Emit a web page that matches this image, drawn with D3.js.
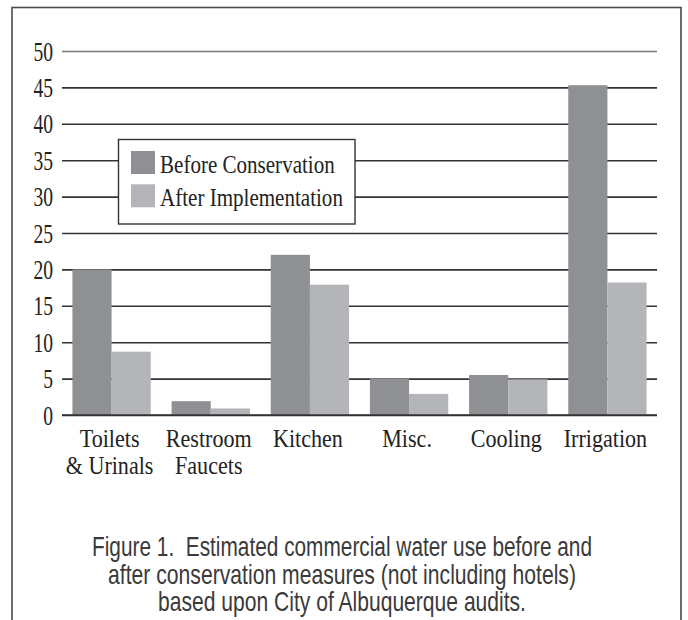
<!DOCTYPE html>
<html>
<head>
<meta charset="utf-8">
<script src="https://cdn.jsdelivr.net/npm/d3@7"></script>
<style>
  html, body { margin: 0; padding: 0; background: #fff; }
  svg { display: block; }
</style>
</head>
<body>
<svg id="chart" width="688" height="620"></svg>
<script>
// ---- data ----
const categories = [["Toilets", "& Urinals"], ["Restroom", "Faucets"], ["Kitchen"], ["Misc."], ["Cooling"], ["Irrigation"]];
const seriesNames = ["Before Conservation", "After Implementation"];
const beforeValues = [20, 1.9, 22, 5, 5.5, 45.3];
const afterValues = [8.7, 0.9, 17.9, 2.9, 4.9, 18.2];
const yTickValues = [0, 5, 10, 15, 20, 25, 30, 35, 40, 45, 50];
const captionLines = [
  "Figure 1.\u00a0 Estimated commercial water use before and",
  "after conservation measures (not including hotels)",
  "based upon City of Albuquerque audits."
];

// ---- styling ----
const colors = ["#8f9094", "#b4b5b9"];
const serif = "'Liberation Serif', 'DejaVu Serif', serif";
const sans = "'Liberation Sans Narrow', 'Liberation Sans', Arial, sans-serif";

const svg = d3.select("#chart");

// outer frame (open at bottom, extends beyond view)
svg.append("rect")
  .attr("x", 12).attr("y", 7.5)
  .attr("width", 669).attr("height", 700)
  .attr("fill", "none").attr("stroke", "#4a4a4a").attr("stroke-width", 1.6);

const plotLeft = 62, plotRight = 657, plotTop = 51, plotBottom = 415;

const y = d3.scaleLinear().domain([0, 50]).range([plotBottom, plotTop]);
const x0 = d3.scaleBand().domain(d3.range(categories.length))
  .range([plotLeft, plotRight]).paddingInner(0.21).paddingOuter(0.105);
const x1 = d3.scaleBand().domain([0, 1]).range([0, x0.bandwidth()]);

// helper: draw horizontally condensed text
function condText(g, str, xPos, yPos, anchor, size, sx, fam, fill) {
  return g.append("text")
    .attr("transform", `translate(${xPos},${yPos}) scale(${sx},1)`)
    .attr("text-anchor", anchor)
    .attr("font-family", fam)
    .attr("font-size", size)
    .attr("fill", fill)
    .text(str);
}

// gridlines via d3 axis
const yAxis = d3.axisLeft(y).tickValues(yTickValues)
  .tickSize(-(plotRight - plotLeft)).tickFormat("");
const axisG = svg.append("g").attr("transform", `translate(${plotLeft},0)`).call(yAxis);
axisG.select(".domain").remove();
axisG.selectAll(".tick line")
  .attr("stroke", d => d === 50 ? "#7a7a7a" : "#333")
  .attr("stroke-width", 1.6);

// tick labels
const tickG = svg.append("g");
yTickValues.forEach(v => {
  condText(tickG, String(v), 53, y(v), "end", 28, 0.7, serif, "#222")
    .attr("dy", "0.34em");
});

// bars
const groups = svg.append("g").selectAll("g")
  .data(categories.map((c, i) => ({ i, vals: [beforeValues[i], afterValues[i]] })))
  .join("g")
  .attr("transform", d => `translate(${x0(d.i)},0)`);
groups.selectAll("rect")
  .data(d => d.vals.map((v, k) => ({ v, k })))
  .join("rect")
  .attr("x", d => x1(d.k))
  .attr("width", x1.bandwidth())
  .attr("y", d => y(d.v))
  .attr("height", d => y(0) - y(d.v))
  .attr("fill", d => colors[d.k]);

// baseline redrawn over bars
svg.append("line")
  .attr("x1", plotLeft).attr("x2", plotRight)
  .attr("y1", y(0)).attr("y2", y(0))
  .attr("stroke", "#333").attr("stroke-width", 1.6);

// category labels
const catG = svg.append("g");
categories.forEach((lines, i) => {
  const cx = x0(i) + x0.bandwidth() / 2 - 2;
  lines.forEach((ln, j) => {
    condText(catG, ln, cx, 447 + j * 27, "middle", 26, 0.85, serif, "#222");
  });
});

// legend
const lg = svg.append("g");
lg.append("rect")
  .attr("x", 118.5).attr("y", 139.5).attr("width", 236.5).attr("height", 84.5)
  .attr("fill", "#fff").attr("stroke", "#333").attr("stroke-width", 1.4);
seriesNames.forEach((name, k) => {
  lg.append("rect")
    .attr("x", 131).attr("y", 151 + k * 33.3)
    .attr("width", 24).attr("height", 23)
    .attr("fill", colors[k]);
  condText(lg, name, 160, 173 + k * 33, "start", 26, 0.81, serif, "#222");
});

// caption (condensed to the reference widths)
const capWidths = [500, 468, 368];
const capG = svg.append("g");
captionLines.forEach((ln, i) => {
  const t = condText(capG, ln, 342, 556 + i * 27.5, "middle", 27, 1, sans, "#3a3a3a");
  const natural = t.node().getComputedTextLength();
  const sx = natural > 0 ? capWidths[i] / natural : 1;
  t.attr("transform", `translate(342,${556 + i * 27.5}) scale(${sx},1)`);
});
</script>
</body>
</html>
